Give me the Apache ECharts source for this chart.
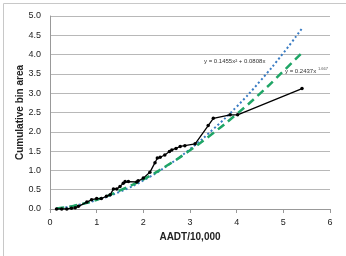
<!DOCTYPE html>
<html>
<head>
  <meta charset="UTF-8">
  <style>
    html, body { margin: 0; padding: 0; background: #fff; }
    #chart { width: 346px; height: 256px; }
  </style>
</head>
<body>
  <div id="chart"></div>
  <script src="https://cdn.jsdelivr.net/npm/echarts@6/dist/echarts.min.js"></script>
  <script>
    // observed cumulative bin area against AADT/10,000
    var aadt = [0.14, 0.25, 0.36, 0.46, 0.54, 0.61, 0.79, 0.89, 1.0, 1.1, 1.21, 1.29, 1.36, 1.43, 1.5, 1.57, 1.61, 1.68,
      1.86, 1.89, 2.0, 2.14, 2.25, 2.3, 2.36, 2.46, 2.56, 2.61, 2.7, 2.79, 2.89, 3.11, 3.39, 3.5, 3.86, 4.02, 5.4];
    var binArea = [0.0, 0.0, 0.0, 0.02, 0.03, 0.07, 0.18, 0.24, 0.27, 0.27, 0.33, 0.37, 0.52, 0.52, 0.58, 0.67, 0.71, 0.71,
      0.7, 0.73, 0.8, 0.95, 1.2, 1.32, 1.34, 1.4, 1.49, 1.53, 1.57, 1.62, 1.64, 1.69, 2.16, 2.35, 2.44, 2.44, 3.12];

    // trend lines
    var trendX = [0.14, 0.5, 1, 1.5, 2, 2.5, 3, 3.5, 4, 4.5, 5, 5.4];
    var polyY = [0.01, 0.08, 0.23, 0.45, 0.74, 1.11, 1.55, 2.07, 2.65, 3.31, 4.04, 4.68];
    var powerY = [0.01, 0.08, 0.24, 0.48, 0.77, 1.12, 1.52, 1.97, 2.46, 2.99, 3.57, 4.05];

    var xTicks = [0, 1, 2, 3, 4, 5, 6];

    function pairs(xs, ys) {
      return xs.map(function (x, i) { return [x, ys[i]]; });
    }

    var myChart = echarts.init(document.getElementById('chart'));
    var font = 'Liberation Sans';
    var option = {
      animation: false,
      grid: { left: 50, right: 16, top: 16, bottom: 47 },
      xAxis: {
        type: 'value',
        min: 0, max: 6, interval: 1,
        name: 'AADT/10,000',
        nameLocation: 'middle',
        nameGap: 23,
        nameMoveOverlap: false,
        nameTextStyle: { fontFamily: font, fontSize: 10, fontWeight: 'bold', color: '#222' },
        axisLine: { show: true, lineStyle: { color: '#999', width: 1 } },
        axisTick: { show: true, inside: false, length: 4, lineStyle: { color: '#999' } },
        axisLabel: {
          fontFamily: font, fontSize: 9, color: '#222', margin: 9,
          formatter: function (v) { return xTicks.indexOf(v) >= 0 ? String(v) : ''; }
        },
        splitLine: { show: false }
      },
      yAxis: {
        type: 'value',
        min: 0, max: 5, interval: 0.5,
        name: 'Cumulative bin area',
        nameLocation: 'middle',
        nameGap: 25,
        nameMoveOverlap: false,
        nameTextStyle: { fontFamily: font, fontSize: 10, fontWeight: 'bold', color: '#222' },
        axisLine: { show: true, lineStyle: { color: '#999', width: 1 } },
        axisTick: { show: false },
        axisLabel: {
          fontFamily: font, fontSize: 9, color: '#222', margin: 9,
          formatter: function (v) { return v.toFixed(1); }
        },
        splitLine: { show: true, lineStyle: { color: '#b8b8b8', width: 1 } }
      },
      graphic: [
        {
          type: 'rect', left: 1, top: 1, silent: true,
          shape: { width: 343, height: 253 },
          style: { fill: 'none', stroke: '#c8c8c8', lineWidth: 1 }
        },
        {
          type: 'text', left: 204, top: 58, silent: true,
          style: { text: 'y = 0.1455x² + 0.0808x', fontFamily: font, fontSize: 6, fill: '#333' }
        },
        {
          type: 'text', left: 285, top: 68, silent: true,
          style: { text: 'y = 0.2437x', fontFamily: font, fontSize: 6, fill: '#333' }
        },
        {
          type: 'text', left: 318, top: 67, silent: true,
          style: { text: '1.667', fontFamily: font, fontSize: 4, fill: '#555' }
        }
      ],
      series: [
        {
          type: 'line',
          data: pairs(trendX, polyY),
          smooth: true,
          showSymbol: false,
          lineStyle: { color: '#3a7cc3', width: 2, type: [2, 2.5] },
          z: 2
        },
        {
          type: 'line',
          data: pairs(trendX, powerY),
          smooth: true,
          showSymbol: false,
          lineStyle: { color: '#1fa566', width: 2.5, type: [8, 5] },
          z: 3
        },
        {
          type: 'line',
          data: pairs(aadt, binArea),
          symbol: 'circle',
          symbolSize: 3.5,
          itemStyle: { color: '#000' },
          lineStyle: { color: '#000', width: 1.3 },
          z: 4
        }
      ]
    };
    myChart.setOption(option);
  </script>
</body>
</html>
